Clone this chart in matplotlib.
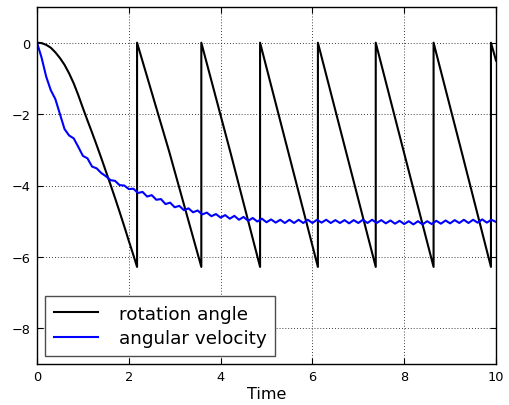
import matplotlib
matplotlib.use("Agg")
import matplotlib.pyplot as plt

# Rotation angle (wrapped to (-2*pi, 0]), vertices
angle_t = [0.0, 0.1, 0.2, 0.3, 0.4, 0.5, 0.6, 0.7, 0.8, 0.9, 1.0, 1.1, 1.2, 1.3,
           1.4, 1.5, 1.6, 1.7, 1.8, 1.9, 2.0, 2.1, 2.18,
           2.18, 2.88, 3.58,
           3.58, 4.22, 4.86,
           4.86, 5.49, 6.12,
           6.12, 6.75, 7.38,
           7.38, 8.01, 8.64,
           8.64, 9.27, 9.89,
           9.89, 10.0]
angle_v = [0.0, -0.01, -0.06, -0.14, -0.27, -0.43, -0.62, -0.86, -1.14, -1.47, -1.83,
           -2.18, -2.52, -2.87, -3.23, -3.60, -3.97, -4.35, -4.74, -5.14, -5.55, -5.95, -6.28,
           0.0, -3.05, -6.28,
           0.0, -3.10, -6.28,
           0.0, -3.14, -6.28,
           0.0, -3.14, -6.28,
           0.0, -3.15, -6.28,
           0.0, -3.15, -6.28,
           0.0, -0.50]

# Angular velocity, sampled every 0.1 time units
vel_t = [i / 10 for i in range(101)]
vel_v = [0.00, -0.42, -0.95, -1.33, -1.58, -2.00, -2.42, -2.60, -2.68, -2.92,
         -3.17, -3.24, -3.47, -3.52, -3.65, -3.74, -3.85, -3.87, -3.99, -4.00,
         -4.10, -4.09, -4.21, -4.18, -4.31, -4.27, -4.40, -4.38, -4.52, -4.48,
         -4.61, -4.57, -4.69, -4.64, -4.75, -4.70, -4.81, -4.76, -4.86, -4.80,
         -4.90, -4.83, -4.93, -4.85, -4.96, -4.88, -4.99, -4.91, -5.01, -4.93,
         -5.03, -4.95, -5.04, -4.96, -5.05, -4.96, -5.05, -4.96, -5.05, -4.96,
         -5.05, -4.96, -5.04, -4.96, -5.05, -4.97, -5.05, -4.97, -5.06, -4.97,
         -5.05, -4.96, -5.05, -4.96, -5.05, -4.97, -5.06, -4.98, -5.07, -4.99,
         -5.08, -5.00, -5.09, -5.00, -5.09, -5.00, -5.08, -4.99, -5.07, -4.98,
         -5.06, -4.97, -5.05, -4.96, -5.05, -4.96, -5.04, -4.95, -5.04, -4.96,
         -5.02]

xticks = [0, 2, 4, 6, 8, 10]
yticks = [-8, -6, -4, -2, 0]
labels = ["rotation angle", "angular velocity"]

fig = plt.figure(figsize=(5.09, 4.06), dpi=100)
ax = fig.add_axes([37 / 509, 1 - 365 / 406, (496 - 37) / 509, (365 - 8) / 406])

ax.plot(angle_t, angle_v, color="black", lw=1.5, label=labels[0])
ax.plot(vel_t, vel_v, color="blue", lw=1.5, label=labels[1])

ax.set_xlim(0, 10)
ax.set_ylim(-9, 1)
ax.set_xticks(xticks)
ax.set_yticks(yticks)
ax.set_yticklabels(["\u2212%d" % (-v) if v < 0 else "%d" % v for v in yticks])
ax.tick_params(direction="in", top=True, right=True, length=4, width=0.8,
               labelsize=9.3, pad=4.5)
ax.grid(True, linestyle=(0, (1, 2.5)), color="black", linewidth=0.6)
for s in ax.spines.values():
    s.set_linewidth(1.0)

ax.set_xlabel("Time", fontsize=11.5, labelpad=2)

leg = ax.legend(loc="lower left", fontsize=13.2, handlelength=2.45, handletextpad=1.1,
                borderpad=0.45, labelspacing=0.38, fancybox=False, framealpha=1,
                borderaxespad=0.45)
leg.get_frame().set_edgecolor("0.3")
leg.get_frame().set_linewidth(1.0)

fig.savefig("out.png", dpi=100, facecolor="white")
